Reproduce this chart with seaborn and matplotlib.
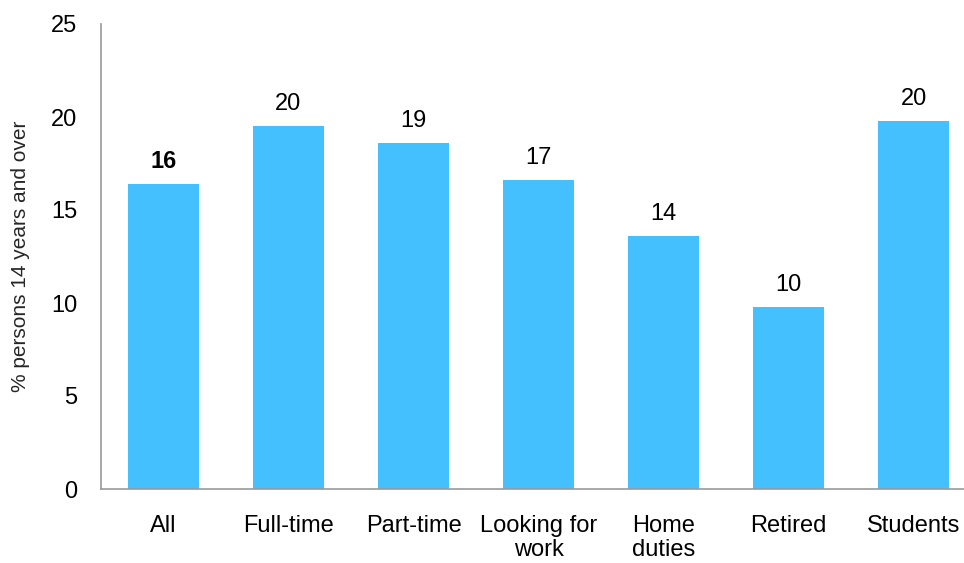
import matplotlib
matplotlib.use("Agg")
import matplotlib.pyplot as plt
import seaborn as sns
import pandas as pd

# Share of persons 14 years and over, by labour force status
categories = ["All", "Full-time", "Part-time", "Looking for\nwork", "Home\nduties", "Retired", "Students"]
values = [16.4, 19.5, 18.6, 16.6, 13.6, 9.8, 19.8]
bold_label = [True, False, False, False, False, False, False]
yticks = [0, 5, 10, 15, 20, 25]

df = pd.DataFrame({"status": categories, "pct": values})

sns.set_theme(style="white")
plt.rcParams["font.family"] = ["Liberation Sans", "DejaVu Sans"]

fig = plt.figure(figsize=(9.64, 5.63), dpi=100)
ax = fig.add_axes([101 / 964, 1 - 489 / 563, (964 - 101) / 964, (489 - 24) / 563])

sns.barplot(data=df, x="status", y="pct", color="#44C0FF", saturation=1,
            width=0.57, ax=ax, edgecolor="none")

for i, (v, b) in enumerate(zip(values, bold_label)):
    ax.annotate(f"{int(v + 0.5)}", (i, v), xytext=(0, 11.5), textcoords="offset points",
                ha="center", va="baseline", fontsize=17,
                fontweight="bold" if b else "normal", color="black")

ax.set_ylim(0, 25)
ax.set_xlim(-0.5, (964 - 101) / 125 - 0.5)
ax.set_yticks(yticks)
ax.set_yticklabels([str(t) for t in yticks])
ax.set_xlabel("")
ax.set_ylabel("% persons 14 years and over", fontsize=15, labelpad=15)
ax.tick_params(axis="y", length=0, pad=17, labelsize=17, labelcolor="black")
ax.tick_params(axis="x", length=0, pad=19, labelsize=17, labelcolor="black")
for lbl in ax.get_xticklabels():
    lbl.set_linespacing(1.12)

for side in ["top", "right"]:
    ax.spines[side].set_visible(False)
for side in ["left", "bottom"]:
    ax.spines[side].set_color("#999999")
    ax.spines[side].set_linewidth(1.2)

fig.savefig("out.png", dpi=100)
